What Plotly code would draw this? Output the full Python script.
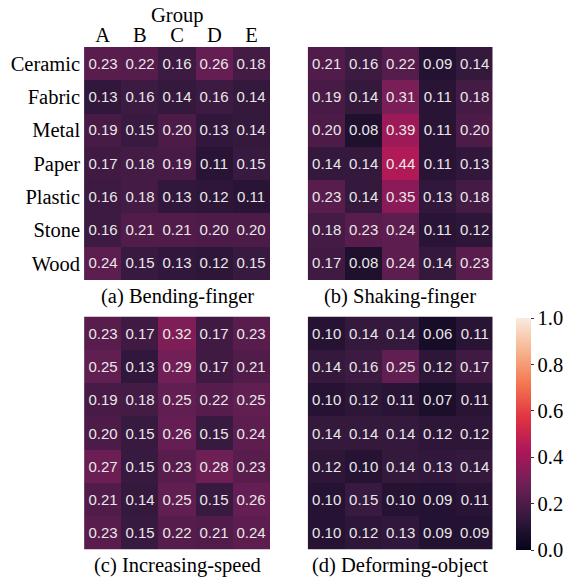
import plotly.graph_objects as go

groups = ["A", "B", "C", "D", "E"]
materials = ["Ceramic", "Fabric", "Metal", "Paper", "Plastic", "Stone", "Wood"]

bending_finger = [
    [0.23, 0.22, 0.16, 0.26, 0.18],
    [0.13, 0.16, 0.14, 0.16, 0.14],
    [0.19, 0.15, 0.20, 0.13, 0.14],
    [0.17, 0.18, 0.19, 0.11, 0.15],
    [0.16, 0.18, 0.13, 0.12, 0.11],
    [0.16, 0.21, 0.21, 0.20, 0.20],
    [0.24, 0.15, 0.13, 0.12, 0.15],
]
shaking_finger = [
    [0.21, 0.16, 0.22, 0.09, 0.14],
    [0.19, 0.14, 0.31, 0.11, 0.18],
    [0.20, 0.08, 0.39, 0.11, 0.20],
    [0.14, 0.14, 0.44, 0.11, 0.13],
    [0.23, 0.14, 0.35, 0.13, 0.18],
    [0.18, 0.23, 0.24, 0.11, 0.12],
    [0.17, 0.08, 0.24, 0.14, 0.23],
]
increasing_speed = [
    [0.23, 0.17, 0.32, 0.17, 0.23],
    [0.25, 0.13, 0.29, 0.17, 0.21],
    [0.19, 0.18, 0.25, 0.22, 0.25],
    [0.20, 0.15, 0.26, 0.15, 0.24],
    [0.27, 0.15, 0.23, 0.28, 0.23],
    [0.21, 0.14, 0.25, 0.15, 0.26],
    [0.23, 0.15, 0.22, 0.21, 0.24],
]
deforming_object = [
    [0.10, 0.14, 0.14, 0.06, 0.11],
    [0.14, 0.16, 0.25, 0.12, 0.17],
    [0.10, 0.12, 0.11, 0.07, 0.11],
    [0.14, 0.14, 0.14, 0.12, 0.12],
    [0.12, 0.10, 0.14, 0.13, 0.14],
    [0.10, 0.15, 0.10, 0.09, 0.11],
    [0.10, 0.12, 0.13, 0.09, 0.09],
]
captions = ["(a) Bending-finger", "(b) Shaking-finger",
            "(c) Increasing-speed", "(d) Deforming-object"]
panels = [bending_finger, shaking_finger, increasing_speed, deforming_object]

# "rocket"-style sequential colormap
rocket = [
    [0.0, "#03051a"],
    [1 / 7, "#35193e"],
    [2 / 7, "#701f57"],
    [3 / 7, "#ad1759"],
    [4 / 7, "#e13342"],
    [5 / 7, "#f37651"],
    [6 / 7, "#f6b48f"],
    [1.0, "#faebdd"],
]

W, H = 564, 578
SERIF = "Liberation Serif, DejaVu Serif, serif"
SANS = "Liberation Sans, Arial, sans-serif"
FS = 20.5

# pixel boxes (left, right, top, bottom) of the four heatmaps
boxes = [
    (85, 273, 47, 280),
    (311, 498, 47, 280),
    (85, 273, 316.5, 549.5),
    (311, 498, 316.5, 549.5),
]

fig = go.Figure()
layout = dict(
    width=W, height=H,
    margin=dict(l=0, r=0, t=0, b=0),
    paper_bgcolor="white", plot_bgcolor="white",
    coloraxis=dict(
        colorscale=rocket, cmin=0, cmax=1,
        colorbar=dict(
            x=522 / W, xanchor="left",
            y=1 - 434 / H, yanchor="middle",
            len=232, lenmode="pixels",
            thickness=15, thicknessmode="pixels",
            outlinewidth=0,
            tickvals=[0, 0.2, 0.4, 0.6, 0.8, 1.0],
            ticktext=["0.0", "0.2", "0.4", "0.6", "0.8", "1.0"],
            ticks="outside", ticklen=3, tickcolor="#333",
            tickfont=dict(family=SERIF, size=FS, color="black"),
            xpad=0, ypad=0,
        ),
    ),
    annotations=[dict(
        text="Group", x=179 / W, y=1 - 16 / H,
        xref="paper", yref="paper", xanchor="center", yanchor="middle",
        showarrow=False, font=dict(family=SERIF, size=FS, color="black"),
    )],
)

for i, (z, (l, r, t, b)) in enumerate(zip(panels, boxes)):
    n = "" if i == 0 else str(i + 1)
    fig.add_trace(go.Heatmap(
        z=z, x=groups, y=materials,
        coloraxis="coloraxis",
        texttemplate="%{z:.2f}",
        textfont=dict(family=SANS, size=15, color="#e8e8e8"),
        xaxis="x" + n, yaxis="y" + n,
        hoverinfo="skip",
    ))
    first = i == 0
    layout["xaxis" + n] = dict(
        domain=[l / W, r / W], anchor="y" + n, side="top",
        showticklabels=first, ticks="", showgrid=False, zeroline=False,
        tickfont=dict(family=SERIF, size=FS, color="black"),
    )
    layout["yaxis" + n] = dict(
        domain=[1 - b / H, 1 - t / H], anchor="x" + n,
        autorange="reversed", ticklabelstandoff=3,
        showticklabels=first, ticks="", showgrid=False, zeroline=False,
        tickfont=dict(family=SERIF, size=FS, color="black"),
    )
    layout["annotations"].append(dict(
        text=captions[i], x=(l + r) / 2 / W, y=1 - (b + 16) / H,
        xref="paper", yref="paper", xanchor="center", yanchor="middle",
        showarrow=False, font=dict(family=SERIF, size=FS, color="black"),
    ))

fig.update_layout(**layout)
fig.write_html("out.html")
